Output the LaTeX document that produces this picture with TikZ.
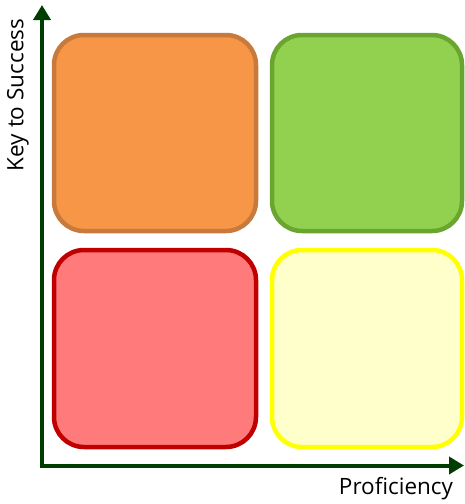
\documentclass[tikz,border=0pt]{standalone}
\usepackage{fontspec}
\setmainfont{Open Sans}
\usepackage{xcolor}
\usepackage{tikz}
\usetikzlibrary{arrows.meta, positioning}

\definecolor{axisgreen}{HTML}{003D00}
\definecolor{orangefill}{HTML}{F79646}
\definecolor{orangeline}{HTML}{C77A3C}
\definecolor{greenfill}{HTML}{92D050}
\definecolor{greenline}{HTML}{6AA52F}
\definecolor{redfill}{HTML}{FF7A7A}
\definecolor{redline}{HTML}{C00000}
\definecolor{yellowfill}{HTML}{FFFFCC}
\definecolor{yellowline}{HTML}{FFFF00}

\begin{document}
\begin{tikzpicture}[
  x=1pt, y=-1pt,
  quad/.style={draw, rounded corners=30pt, line width=4.5pt, inner sep=0pt},
  leftcol/.style={minimum width=202pt},
  rightcol/.style={minimum width=190pt},
  toprow/.style={minimum height=196pt},
  lowrow/.style={minimum height=197pt},
  axis/.style={{Triangle[length=15pt,width=17pt]}-{Triangle[length=15pt,width=17pt]},
    line width=4pt, draw=axisgreen, miter limit=10},
  label/.style={font=\fontsize{22.5}{27}\selectfont, inner sep=0pt},
]
  \useasboundingbox (0,0) rectangle (465,504);

  \node (hilo) [quad, leftcol, toprow, fill=orangefill, draw=orangeline]  at (155,133)   {};
  \node (hihi) [quad, rightcol, toprow, fill=greenfill, draw=greenline]   at (367,133)   {};
  \node (lolo) [quad, leftcol, lowrow, fill=redfill, draw=redline]        at (155,348.5) {};
  \node (lohi) [quad, rightcol, lowrow, fill=yellowfill, draw=yellowline] at (367,348.5) {};

  \coordinate (origin) at (42,465.5);
  \coordinate (ytip) at (42,5);
  \coordinate (xtip) at (464,465.5);
  \draw[axis] (ytip) -- (origin) -- (xtip);

  \node (ylabel) [label, rotate=90] at (18,95)  {Key to Success};
  \node (xlabel) [label]            at (396,489) {Proficiency};
\end{tikzpicture}
\end{document}
